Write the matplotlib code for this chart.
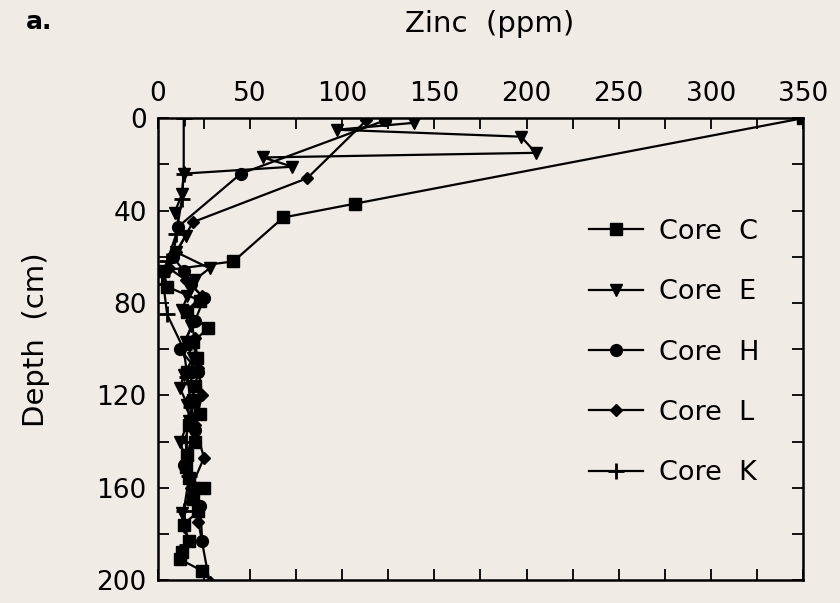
"""
Perfiles de zinc en profundidad para cinco núcleos de sedimento (panel a).
"""
import matplotlib
matplotlib.use("Agg")
import matplotlib.pyplot as plt
from matplotlib.ticker import MultipleLocator

# Datos: profundidad (cm) y zinc (ppm)
core_c_depth = [0, 37, 43, 62, 66, 73, 79, 84, 91, 97, 104, 110, 116, 122,
                128, 133, 140, 146, 151, 156, 160, 165, 170, 176, 183, 188, 191, 196]
core_c_zinc = [350, 107, 68, 41, 3, 5, 23, 16, 27, 19, 21, 16, 20, 19,
               23, 17, 20, 16, 15, 17, 25, 19, 22, 14, 17, 13, 12, 24]

core_e_depth = [2, 5, 8, 15, 17, 21, 24, 33, 41, 51, 58, 65, 70, 77, 83,
                90, 97, 104, 111, 117, 124, 131, 140, 150, 160, 171, 177]
core_e_zinc = [139, 97, 197, 205, 57, 73, 14, 13, 9, 15, 10, 28, 20, 16, 13,
               18, 15, 19, 14, 12, 16, 17, 12, 16, 19, 13, 14]

core_h_depth = [1, 24, 47, 60, 66, 72, 78, 88, 100, 110, 122, 135, 150, 160, 168, 183]
core_h_zinc = [123, 45, 11, 8, 14, 18, 25, 20, 12, 22, 18, 20, 14, 19, 23, 24]

core_l_depth = [1, 26, 45, 58, 65, 70, 77, 83, 95, 108, 120, 133, 147, 160, 175, 201]
core_l_zinc = [113, 81, 19, 10, 6, 15, 24, 16, 20, 22, 24, 20, 25, 18, 22, 28]

core_k_depth = [0, 24, 35, 50, 62, 68, 72, 85, 100, 112, 125, 140, 155, 170, 185]
core_k_zinc = [14, 14, 13, 10, 5, 2, 3, 5, 14, 16, 18, 15, 17, 14, 16]

series = [
    ("Core  C", core_c_zinc, core_c_depth, "s", 9),
    ("Core  E", core_e_zinc, core_e_depth, "v", 9),
    ("Core  H", core_h_zinc, core_h_depth, "o", 8.5),
    ("Core  L", core_l_zinc, core_l_depth, "D", 6.5),
    ("Core  K", core_k_zinc, core_k_depth, "+", 11),
]

bg = "#f0ebe4"
fig = plt.figure(figsize=(8.4, 6.03), dpi=100, facecolor=bg)
ax = fig.add_axes([0.188, 0.038, 0.768, 0.766], facecolor=bg)

for label, x, y, m, ms in series:
    ax.plot(x, y, color="black", lw=1.6, marker=m, markersize=ms,
            markeredgewidth=2 if m == "+" else 1, label=label,
            clip_on=True)

ax.set_xlim(0, 350)
ax.set_ylim(200, 0)
ax.xaxis.tick_top()
ax.xaxis.set_major_locator(MultipleLocator(50))
ax.xaxis.set_minor_locator(MultipleLocator(25))
ax.yaxis.set_major_locator(MultipleLocator(40))
ax.yaxis.set_minor_locator(MultipleLocator(20))
ax.tick_params(which="both", direction="in", length=8, width=1.3,
               top=True, bottom=True, left=True, right=True,
               labelsize=19, pad=8)
ax.tick_params(which="minor", labelsize=0)
for sp in ax.spines.values():
    sp.set_linewidth(1.8)

fig.text(490 / 840, 1 - 24 / 603, "Zinc  (ppm)", fontsize=21,
         ha="center", va="center")
fig.text(36 / 840, 1 - 340 / 603, "Depth  (cm)", fontsize=21,
         ha="center", va="center", rotation=90)
fig.text(26 / 840, 1 - 22 / 603, "a.", fontsize=18, fontweight="bold",
         ha="left", va="center")

ax.legend(loc="upper left", bbox_to_anchor=(0.63, 0.835), frameon=False,
          fontsize=19.5, labelspacing=1.27, handlelength=2.0, handletextpad=0.6)

fig.savefig("out.png", dpi=100, facecolor=bg)
